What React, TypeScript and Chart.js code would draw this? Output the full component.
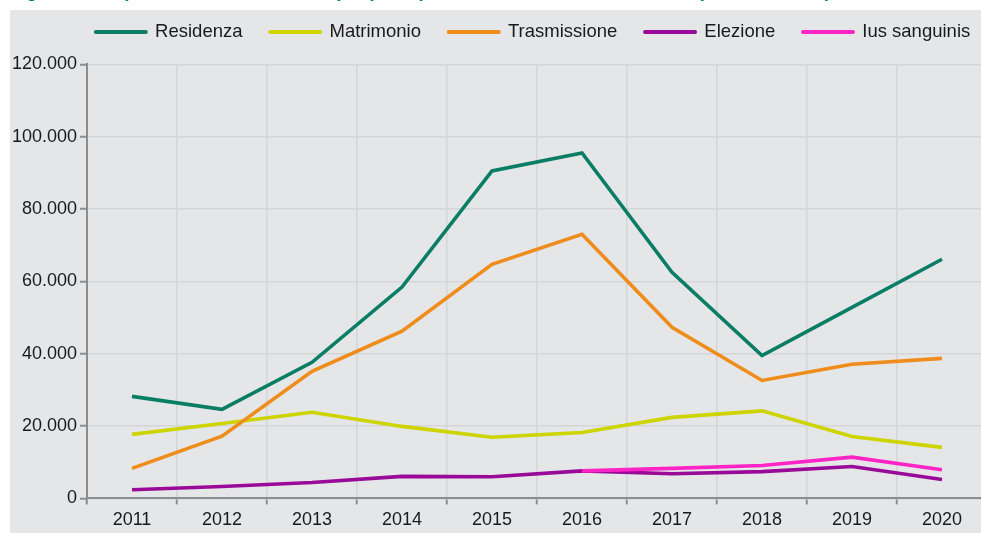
import React, { useEffect, useRef } from "react";
import { Chart, registerables } from "chart.js";

Chart.register(...registerables);

const years = ["2011", "2012", "2013", "2014", "2015", "2016", "2017", "2018", "2019", "2020"];
const residenza = [28200, 24600, 37600, 58400, 90500, 95500, 62500, 39500, 52800, 66100];
const matrimonio = [17700, 20700, 23800, 19900, 16900, 18200, 22400, 24200, 17100, 14100];
const trasmissione = [8300, 17200, 35100, 46200, 64700, 73000, 47300, 32600, 37100, 38700];
const elezione = [2400, 3300, 4400, 6100, 6000, 7600, 6800, 7400, 8800, 5200];
const iusSanguinis = [null, null, null, null, null, 7600, 8300, 9100, 11400, 7900];
const yTickLabels = ["0", "20.000", "40.000", "60.000", "80.000", "100.000", "120.000"];
const yStep = 20000;

const seriesNames = ["Residenza", "Matrimonio", "Trasmissione", "Elezione", "Ius sanguinis"];
const seriesColors = ["#0a7e65", "#cdd400", "#ef8d1c", "#990a99", "#ff24c6"];

const FONT = "'Liberation Sans', Arial, Helvetica, sans-serif";

export default function App() {
  const ref = useRef<HTMLCanvasElement | null>(null);

  useEffect(() => {
    if (!ref.current) return;
    const seriesData = [residenza, matrimonio, trasmissione, elezione, iusSanguinis];
    const chart = new Chart(ref.current, {
      type: "line",
      data: {
        labels: years,
        datasets: seriesNames.map((name, i) => ({
          label: name,
          data: seriesData[i],
          borderColor: seriesColors[i],
          backgroundColor: seriesColors[i],
          borderWidth: 3.6,
          pointRadius: 0,
          pointHoverRadius: 0,
          tension: 0,
          fill: false,
          spanGaps: false,
          order: -i,
          xAxisID: "x",
          yAxisID: "y",
        })),
      },
      options: {
        animation: false,
        responsive: false,
        maintainAspectRatio: false,
        layout: { padding: { left: 0, right: 12, top: 0, bottom: 1 } },
        plugins: {
          tooltip: { enabled: false },
          legend: {
            display: true,
            position: "top",
            align: "end",
            labels: {
              usePointStyle: true,
              pointStyle: "line",
              pointStyleWidth: 50,
              padding: 27.75,
              color: "#1a1a1a",
              font: { family: FONT, size: 18.5 },
              generateLabels: (c: any) =>
                c.data.datasets.map((ds: any, i: number) => ({
                  text: ds.label,
                  fillStyle: ds.borderColor,
                  strokeStyle: ds.borderColor,
                  lineWidth: 4,
                  lineCap: "round",
                  pointStyle: "line",
                  hidden: false,
                  datasetIndex: i,
                  fontColor: "#1a1a1a",
                })),
            },
          },
        },
        scales: {
          x: {
            type: "category",
            position: "bottom",
            offset: true,
            grid: {
              offset: true,
              color: "#d4d5d7",
              lineWidth: 1.5,
              drawTicks: true,
              tickLength: 6,
              tickColor: "#8c8c8c",
              tickWidth: 2,
            },
            border: { display: true, color: "#8c8c8c", width: 2 },
            ticks: {
              color: "#1a1a1a",
              font: { family: FONT, size: 18 },
              padding: 5,
              maxRotation: 0,
              autoSkip: false,
            },
          },
          xTop: {
            type: "category",
            position: "top",
            display: true,
            grid: { display: false, drawTicks: false },
            border: { display: false },
            ticks: { display: false },
            afterFit: (s: any) => {
              s.height = 13;
            },
          },
          y: {
            position: "left",
            min: 0,
            max: 120000,
            afterFit: (s: any) => {
              s.width = 77;
            },
            grid: {
              color: "#d4d5d7",
              lineWidth: 1.5,
              drawTicks: true,
              tickLength: 7,
              tickColor: "#8c8c8c",
              tickWidth: 2,
            },
            border: { display: true, color: "#8c8c8c", width: 2 },
            ticks: {
              stepSize: yStep,
              padding: 3,
              color: "#1a1a1a",
              font: { family: FONT, size: 18 },
              callback: (v: any) => yTickLabels[Math.round(Number(v) / yStep)] ?? "",
            },
          },
          yRight: {
            position: "right",
            display: true,
            min: 0,
            max: 120000,
            grid: { display: false, drawTicks: false },
            border: { display: false },
            ticks: { display: false },
            afterFit: (s: any) => {
              s.width = 11;
            },
          },
        },
      },
    });
    return () => chart.destroy();
  }, []);

  return (
    <div
      style={{
        position: "absolute",
        left: 0,
        top: 0,
        width: 981,
        height: 533,
        overflow: "hidden",
        background: "#ffffff",
      }}
    >
      <div
        style={{
          position: "absolute",
          left: 10,
          top: -18,
          whiteSpace: "nowrap",
          fontFamily: FONT,
          fontWeight: "bold",
          fontSize: 18,
          lineHeight: "18px",
          color: "#0a7e65",
        }}
      >
        Figura 3 - Acquisizioni di cittadinanza per principali motivazioni. Anni 2011-2020 (valori assoluti)
      </div>
      <div
        style={{
          position: "absolute",
          left: 10,
          top: 10,
          width: 971,
          height: 523,
          background: "#e5e6e8",
        }}
      />
      <canvas
        ref={ref}
        width={1000}
        height={542}
        style={{ position: "absolute", left: 10, top: -5, width: 1000, height: 542 }}
      />
    </div>
  );
}
